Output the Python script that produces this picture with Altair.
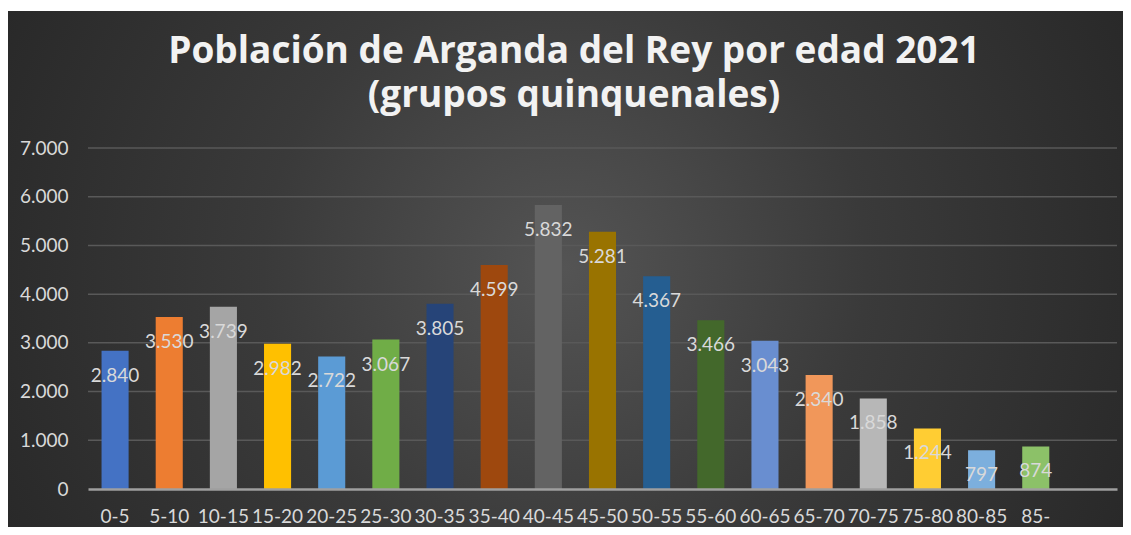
import altair as alt
import pandas as pd

# ---- data ----
categories = ["0-5", "5-10", "10-15", "15-20", "20-25", "25-30", "30-35", "35-40",
              "40-45", "45-50", "50-55", "55-60", "60-65", "65-70", "70-75", "75-80",
              "80-85", "85-"]
values = [2840, 3530, 3739, 2982, 2722, 3067, 3805, 4599, 5832, 5281, 4367, 3466,
          3043, 2340, 1858, 1244, 797, 874]
bar_colors = ["#4472C4", "#ED7D31", "#A5A5A5", "#FFC000", "#5B9BD5", "#70AD47",
              "#264478", "#9E480E", "#636363", "#997300", "#255E91", "#43682B",
              "#698ED0", "#F1975A", "#B7B7B7", "#FFCD33", "#7CAFDD", "#8CC168"]
y_ticks = [0, 1000, 2000, 3000, 4000, 5000, 6000, 7000]
title_line1 = "Población de Arganda del Rey por edad 2021"
title_line2 = "(grupos quinquenales)"

# ---- layout ----
W, H = 1029, 341
PAD = {"left": 80, "top": 140, "right": 6, "bottom": 38}
LABEL_FONT = "Lato"
TITLE_FONT = "Open Sans"
TEXT_COLOR = "#d9d9d9"
FS = 19

df = pd.DataFrame({"grupo": categories, "poblacion": values})
x_domain = categories + [" "]  # trailing empty category slot, as in the original
xscale = alt.Scale(domain=x_domain, paddingInner=0.5, paddingOuter=0.25)
yscale = alt.Scale(domain=[0, 7000], nice=False)
one_row = alt.Data(values=[{}])

y_axis = alt.Axis(title=None, values=y_ticks, grid=False, domain=False,
                  ticks=False, labelFont=LABEL_FONT, labelFontSize=FS,
                  labelColor=TEXT_COLOR, labelPadding=20, zindex=1,
                  labelExpr="replace(format(datum.value, ','), ',', '.')")

bg = alt.Chart(one_row).mark_rect(
    fill=alt.Gradient(
        gradient="radial",
        stops=[alt.GradientStop(color="#545454", offset=0),
               alt.GradientStop(color="#3a3a3a", offset=0.45),
               alt.GradientStop(color="#262626", offset=1)],
        x1=0.5, y1=0.5, x2=0.5, y2=0.5, r1=0, r2=0.6),
).encode(
    x=alt.value(-PAD["left"] - 1), x2=alt.value(W + PAD["right"]),
    y=alt.value(-PAD["top"] + 3), y2=alt.value(H + PAD["bottom"]),
)

grid = alt.Chart(pd.DataFrame({"v": y_ticks[1:]})).mark_rule(
    color="#595959", strokeWidth=1.5
).encode(
    y=alt.Y("v:Q", scale=yscale, axis=y_axis),
    x=alt.value(0), x2=alt.value(W),
)

base = alt.Chart(df)

bars = base.mark_bar().encode(
    x=alt.X("grupo:N", scale=xscale, sort=x_domain,
            axis=alt.Axis(title=None, labelAngle=0, ticks=False, grid=False,
                          domainColor="#9f9f9f", domainWidth=2.5,
                          labelFont=LABEL_FONT, labelFontSize=FS,
                          labelColor=TEXT_COLOR, labelPadding=18, zindex=1)),
    y=alt.Y("poblacion:Q", scale=yscale, axis=y_axis),
    color=alt.Color("grupo:N", scale=alt.Scale(domain=categories, range=bar_colors),
                    legend=None),
)

labels = base.transform_calculate(
    label="replace(format(datum.poblacion, ','), ',', '.')"
).mark_text(
    baseline="middle", align="center", dy=25, font=LABEL_FONT, fontSize=FS,
    color=TEXT_COLOR,
).encode(
    x=alt.X("grupo:N", scale=xscale, sort=x_domain),
    y=alt.Y("poblacion:Q", scale=yscale),
    text="label:N",
)

title_style = dict(font=TITLE_FONT, fontSize=37, fontWeight="bold",
                   color="#f2f2f2", baseline="alphabetic", align="center")
title1 = alt.Chart(one_row).mark_text(text=title_line1, **title_style).encode(
    x=alt.value(486), y=alt.value(-85))
title2 = alt.Chart(one_row).mark_text(text=title_line2, **title_style).encode(
    x=alt.value(486), y=alt.value(-41))

chart = alt.layer(bg, grid, bars, labels, title1, title2).properties(
    width=W, height=H,
    autosize=alt.AutoSizeParams(type="none"),
    padding=PAD,
    background="white",
).configure_view(stroke=None)

chart.save("out.html", embed_options={"renderer": "svg", "actions": False})
